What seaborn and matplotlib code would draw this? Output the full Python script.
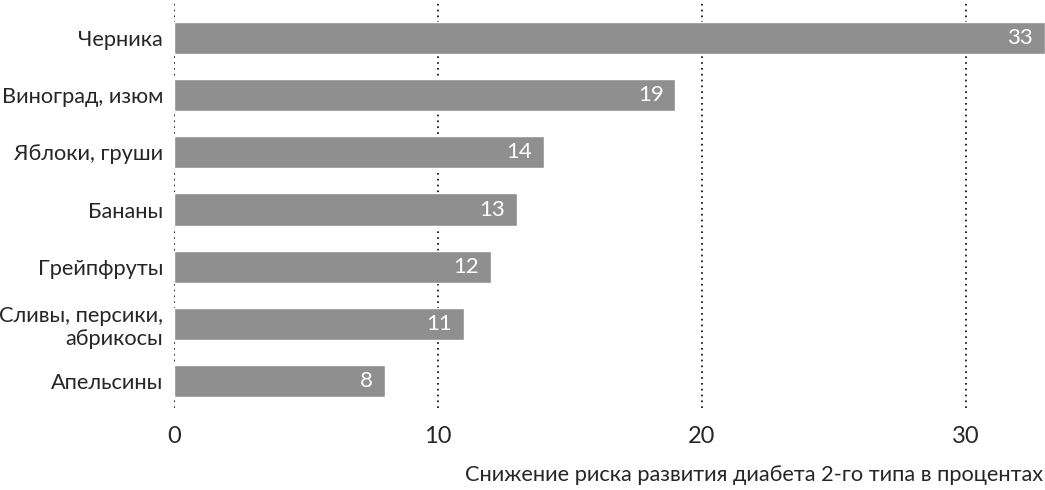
import pandas as pd
import seaborn as sns
import matplotlib.pyplot as plt

# Data
fruits = ['Черника', 'Виноград, изюм', 'Яблоки, груши', 'Бананы',
          'Грейпфруты', 'Сливы, персики,\nабрикосы', 'Апельсины']
risk_drop = [33, 19, 14, 13, 12, 11, 8]
ticks = [0, 10, 20, 30]

df = pd.DataFrame({'fruit': fruits, 'value': risk_drop})

sns.set_style('white')
plt.rcParams['font.family'] = ['Lato', 'DejaVu Sans']

fig = plt.figure(figsize=(10.45, 4.9), dpi=100)
ax = fig.add_axes([0.1665, 0.167, 0.8335, 0.833])

sns.barplot(data=df, y='fruit', x='value', orient='h', color='#8f8f8f',
            saturation=1, width=0.56, ax=ax)

# dotted grid lines
for t in ticks:
    ax.axvline(t, color='black', linestyle=(0, (1, 2.5)), linewidth=1.2, zorder=0)

# value labels inside the bars
for i, v in enumerate(risk_drop):
    ax.text(v - 0.45, i, str(v), color='white', ha='right', va='center', fontsize=16)

ax.set_xlim(0, 33)
ax.set_ylim(6.47, -0.66)
ax.set_xticks(ticks)
ax.set_xticklabels([str(t) for t in ticks], fontsize=17)
ax.tick_params(axis='x', length=0, pad=13)
ax.tick_params(axis='y', length=0, pad=8, labelsize=15.7)
for lbl in ax.get_yticklabels():
    lbl.set_horizontalalignment('right')
    lbl.set_multialignment('right')
ax.set_ylabel('')
ax.set_xlabel('')
sns.despine(left=True, bottom=True)
fig.text(0.998, 0.03, 'Снижение риска развития диабета 2-го типа в процентах',
         ha='right', va='center', fontsize=15.7)

fig.savefig('out.png', dpi=100)
